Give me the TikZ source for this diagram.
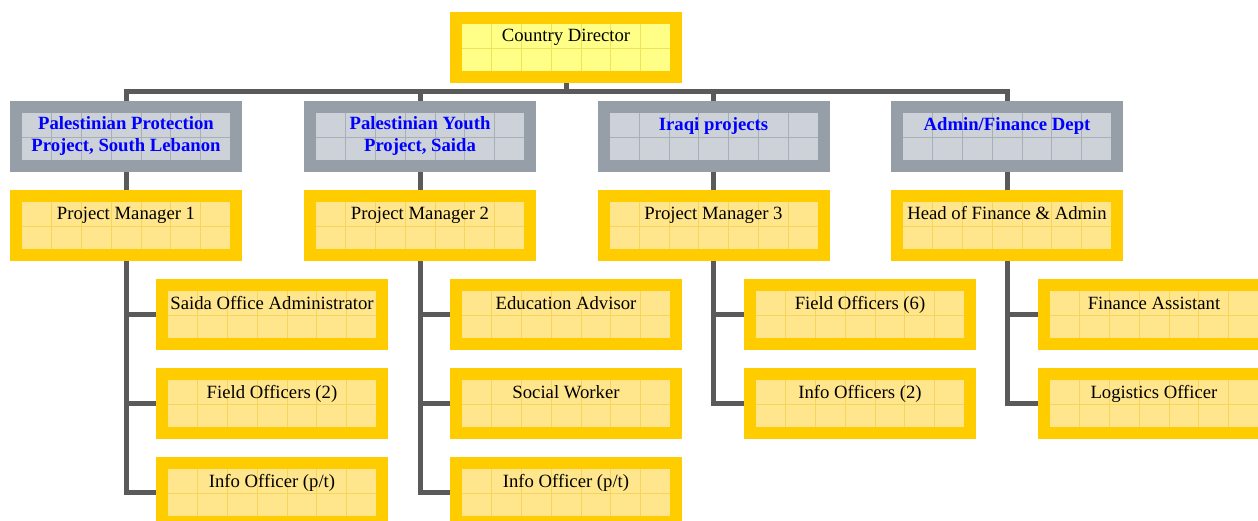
\documentclass[tikz,border=0pt]{standalone}
\usepackage{fontspec}
\setmainfont{Liberation Serif}
\definecolor{boxgold}{HTML}{FFCC00}
\definecolor{topfill}{HTML}{FFFF88}
\definecolor{topgrid}{HTML}{EDE45A}
\definecolor{postfill}{HTML}{FFE68C}
\definecolor{postgrid}{HTML}{F5D55A}
\definecolor{deptframe}{HTML}{969FA8}
\definecolor{deptfill}{HTML}{CDD2D9}
\definecolor{deptgrid}{HTML}{A8AFB8}
\definecolor{deptblue}{HTML}{0000FF}
\definecolor{linkgrey}{HTML}{5A5A5A}
\tikzset{
  orgbox/.style n args={3}{rectangle, draw=#1, fill=#2, line width=12pt,
    minimum width=220pt, minimum height=59pt, inner sep=0pt,
    font=\fontsize{18.7}{22}\selectfont,
    path picture={
      \foreach \i in {1,...,6}
        \draw[#3, line width=0.5pt]
          ([xshift=6pt+\i*29.714pt, yshift=-6pt]path picture bounding box.north west) --
          ([xshift=6pt+\i*29.714pt, yshift=6pt]path picture bounding box.south west);
      \draw[#3, line width=0.5pt] ([xshift=6pt, yshift=-1pt]path picture bounding box.west) --
        ([xshift=-6pt, yshift=-1pt]path picture bounding box.east);
    }},
  toprow/.style={text height=13pt, text depth=24pt},
  director/.style={orgbox={boxgold}{topfill}{topgrid}, toprow},
  post/.style={orgbox={boxgold}{postfill}{postgrid}, toprow},
  dept/.style={orgbox={deptframe}{deptfill}{deptgrid},
    font=\fontsize{18.7}{22}\selectfont\bfseries, text=deptblue, align=center},
  link/.style={draw=linkgrey, line width=5pt}
}
\begin{document}
\begin{tikzpicture}[x=1pt,y=-1pt]
  \useasboundingbox (0,0) rectangle (1258,521);
  % TOP: director
  \node[director] (dir) at (566,47.5) {Country Director};
  % departments
  \node[dept] (dep1) at (126,136.5) {Palestinian Protection\\Project, South Lebanon};
  \node[dept] (dep2) at (420,136.5) {Palestinian Youth\\Project, Saida};
  \node[dept, toprow] (dep3) at (713.5,136.5) {Iraqi projects};
  \node[dept, toprow] (dep4) at (1007,136.5) {Admin/Finance Dept};
  % managers
  \node[post] (pm1) at (126,225.5) {Project Manager 1};
  \node[post] (pm2) at (420,225.5) {Project Manager 2};
  \node[post] (pm3) at (713.5,225.5) {Project Manager 3};
  \node[post] (hfa) at (1007,225.5) {Head of Finance \& Admin};
  % staff, first column
  \node[post] (soa) at (272,314.5) {Saida Office Administrator};
  \node[post] (fo1) at (272,403.5) {Field Officers (2)};
  \node[post] (io1) at (272,492.5) {Info Officer (p/t)};
  % staff, second column
  \node[post] (edu) at (566,314.5) {Education Advisor};
  \node[post] (sw) at (566,403.5) {Social Worker};
  \node[post] (io2) at (566,492.5) {Info Officer (p/t)};
  % staff, third column
  \node[post] (fo3) at (860,314.5) {Field Officers (6)};
  \node[post] (io3) at (860,403.5) {Info Officers (2)};
  % staff, fourth column
  \node[post] (fa) at (1154,314.5) {Finance Assistant};
  \node[post] (lo) at (1154,403.5) {Logistics Officer};
  % bus under the director
  \coordinate (bus) at (566,92);
  \draw[link] (dir.south) -- (bus);
  \draw[link] (dep1.north) |- (bus) -| (dep4.north);
  \draw[link] (dep2.north) -- (dep2.north |- bus);
  \draw[link] (dep3.north) -- (dep3.north |- bus);
  % departments to managers
  \draw[link] (dep1.south) -- (pm1.north);
  \draw[link] (dep2.south) -- (pm2.north);
  \draw[link] (dep3.south) -- (pm3.north);
  \draw[link] (dep4.south) -- (hfa.north);
  % managers to staff
  \draw[link] (pm1.south) |- (io1.west);
  \draw[link] (pm1.south |- soa.west) -- (soa.west);
  \draw[link] (pm1.south |- fo1.west) -- (fo1.west);
  \draw[link] (pm2.south) |- (io2.west);
  \draw[link] (pm2.south |- edu.west) -- (edu.west);
  \draw[link] (pm2.south |- sw.west) -- (sw.west);
  \draw[link] (pm3.south) |- (io3.west);
  \draw[link] (pm3.south |- fo3.west) -- (fo3.west);
  \draw[link] (hfa.south) |- (lo.west);
  \draw[link] (hfa.south |- fa.west) -- (fa.west);
\end{tikzpicture}
\end{document}
